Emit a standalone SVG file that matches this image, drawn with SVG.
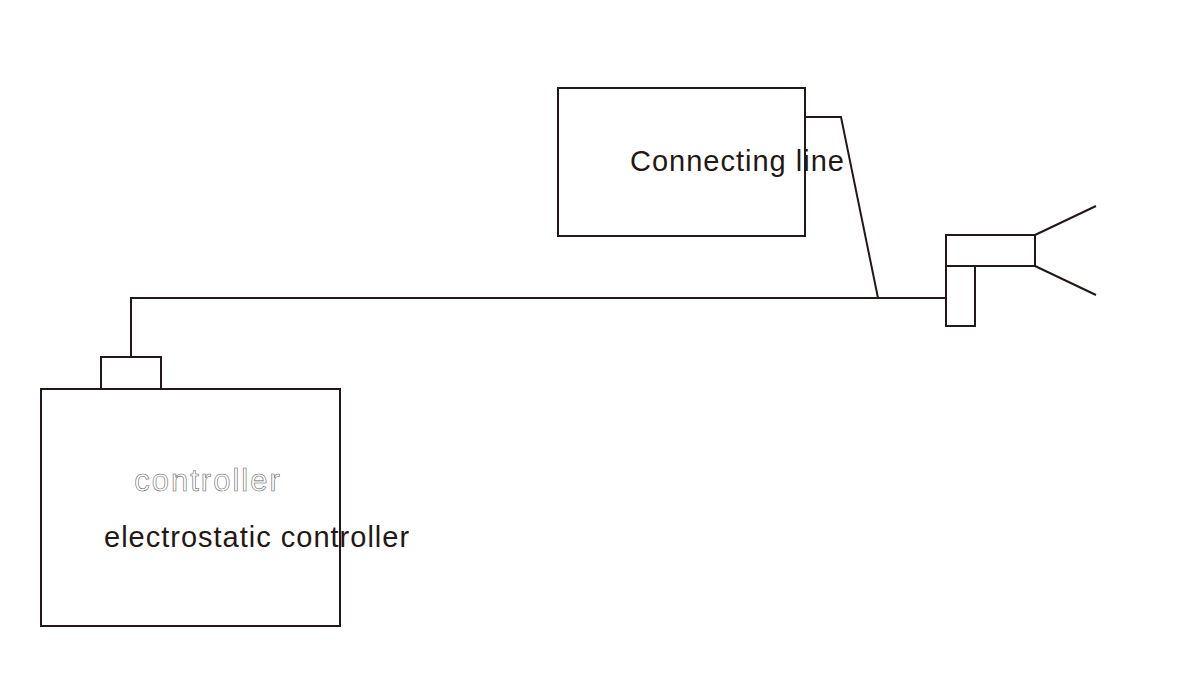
<svg xmlns="http://www.w3.org/2000/svg" width="1177" height="683" viewBox="0 0 1177 683">
<style>
.s{fill:none;stroke:#231815;stroke-width:2}
.t{font-family:"Liberation Sans",Arial,sans-serif;fill:#231815;font-size:29px;letter-spacing:1px}
</style>
<rect width="1177" height="683" fill="#fff"/>
<g id="controller">
<rect class="s" x="41" y="389" width="299" height="237"/>
<rect class="s" x="101" y="357" width="60" height="32"/>
<text x="208" y="491" text-anchor="middle" style="font-family:'Liberation Sans',Arial,sans-serif;font-size:31px;fill:none;stroke:#666;stroke-width:0.6;letter-spacing:2px">controller</text>
<text class="t" x="104" y="547">electrostatic controller</text>
</g>
<g id="connecting-line">
<rect class="s" x="558" y="88" width="247" height="148"/>
<text class="t" x="630" y="171">Connecting line</text>
</g>
<g id="gun">
<rect class="s" x="946" y="235" width="89" height="31"/>
<rect class="s" x="946" y="266" width="29" height="60"/>
<path class="s" d="M1035 235L1096 206M1035 266L1096 295"/>
</g>
<g id="connectors">
<path class="s" d="M131 357V298H946"/>
<path class="s" d="M805 117H841L878 298"/>
</g>
</svg>
